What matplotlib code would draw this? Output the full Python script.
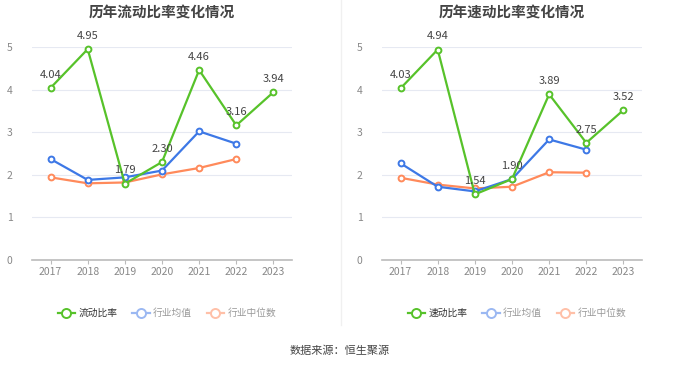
import matplotlib

matplotlib.use("Agg")
import matplotlib.pyplot as plt  # noqa: E402
from matplotlib.lines import Line2D  # noqa: E402

plt.rcParams["font.family"] = ["Noto Sans CJK SC", "DejaVu Sans"]

years = ["2017", "2018", "2019", "2020", "2021", "2022", "2023"]

current_ratio = [4.04, 4.95, 1.79, 2.30, 4.46, 3.16, 3.94]
current_mean = [2.37, 1.88, 1.94, 2.10, 3.02, 2.73]
current_median = [1.94, 1.80, 1.82, 2.01, 2.16, 2.37]

quick_ratio = [4.03, 4.94, 1.54, 1.90, 3.89, 2.75, 3.52]
quick_mean = [2.27, 1.72, 1.61, 1.90, 2.83, 2.59]
quick_median = [1.93, 1.77, 1.68, 1.72, 2.06, 2.05]

GREEN = "#57c22a"
BLUE = "#3d78e6"
ORANGE = "#ff8a5b"

panels = [
    ("历年流动比率变化情况", "流动比率", current_ratio, current_mean, current_median, 32),
    ("历年速动比率变化情况", "速动比率", quick_ratio, quick_mean, quick_median, 382),
]

fig = plt.figure(figsize=(6.8, 3.67), dpi=100)
W, H = 680, 367

for title, name, main, mean, median, x0 in panels:
    ax = fig.add_axes([x0 / W, (H - 260) / H, 260 / W, 213 / H])
    xs = list(range(len(years)))
    for vals, color, z in ((median, ORANGE, 2), (mean, BLUE, 3), (main, GREEN, 4)):
        ax.plot(range(len(vals)), vals, color=color, lw=1.6, marker="o", ms=4.2,
                mfc="white", mec=color, mew=1.4, zorder=z, clip_on=False)
    for i, v in enumerate(main):
        ax.annotate(f"{v:.2f}", (i, v), xytext=(0, 6), textcoords="offset points",
                    ha="center", va="bottom", fontsize=8, color="#444444", zorder=6)
    ax.set_xlim(-0.5, len(years) - 0.5)
    ax.set_ylim(0, 5)
    ax.set_xticks(xs)
    ax.set_xticklabels(years)
    ax.set_yticks(range(6))
    ax.tick_params(axis="x", length=3, color="#bbbbbb", labelsize=7.5, labelcolor="#888888", pad=2)
    ax.tick_params(axis="y", length=0, labelsize=7.5, labelcolor="#888888", pad=14)
    ax.grid(axis="y", color="#e6e9f2", lw=0.8)
    ax.set_axisbelow(True)
    for s in ("top", "right", "left"):
        ax.spines[s].set_visible(False)
    ax.spines["bottom"].set_color("#bbbbbb")
    ax.spines["bottom"].set_linewidth(1.2)
    ax.set_title(title, fontsize=10.5, fontweight="bold", color="#444444", pad=22)

    handles = [
        Line2D([], [], color=c, lw=1.6, marker="o", ms=6.5, mfc="white", mec=c, mew=1.4)
        for c in (GREEN, "#9bb8f2", "#ffc0a8")
    ]
    leg = fig.legend(handles, [name, "行业均值", "行业中位数"], ncol=3, frameon=False,
                     loc="center", bbox_to_anchor=((x0 + 135) / W, 1 - 313 / H),
                     fontsize=7, handlelength=1.8, handletextpad=0.35, columnspacing=1.5)
    texts = leg.get_texts()
    texts[0].set_color("#333333")
    for t in texts[1:]:
        t.set_color("#999999")

fig.add_artist(Line2D([341 / W, 341 / W], [1 - 325 / H, 1.0], color="#f0f0f0", lw=1))
fig.text(0.5, 1 - 351 / H, "数据来源：恒生聚源", ha="center", va="center", fontsize=8, color="#444444")

fig.savefig("out.png", dpi=100)
